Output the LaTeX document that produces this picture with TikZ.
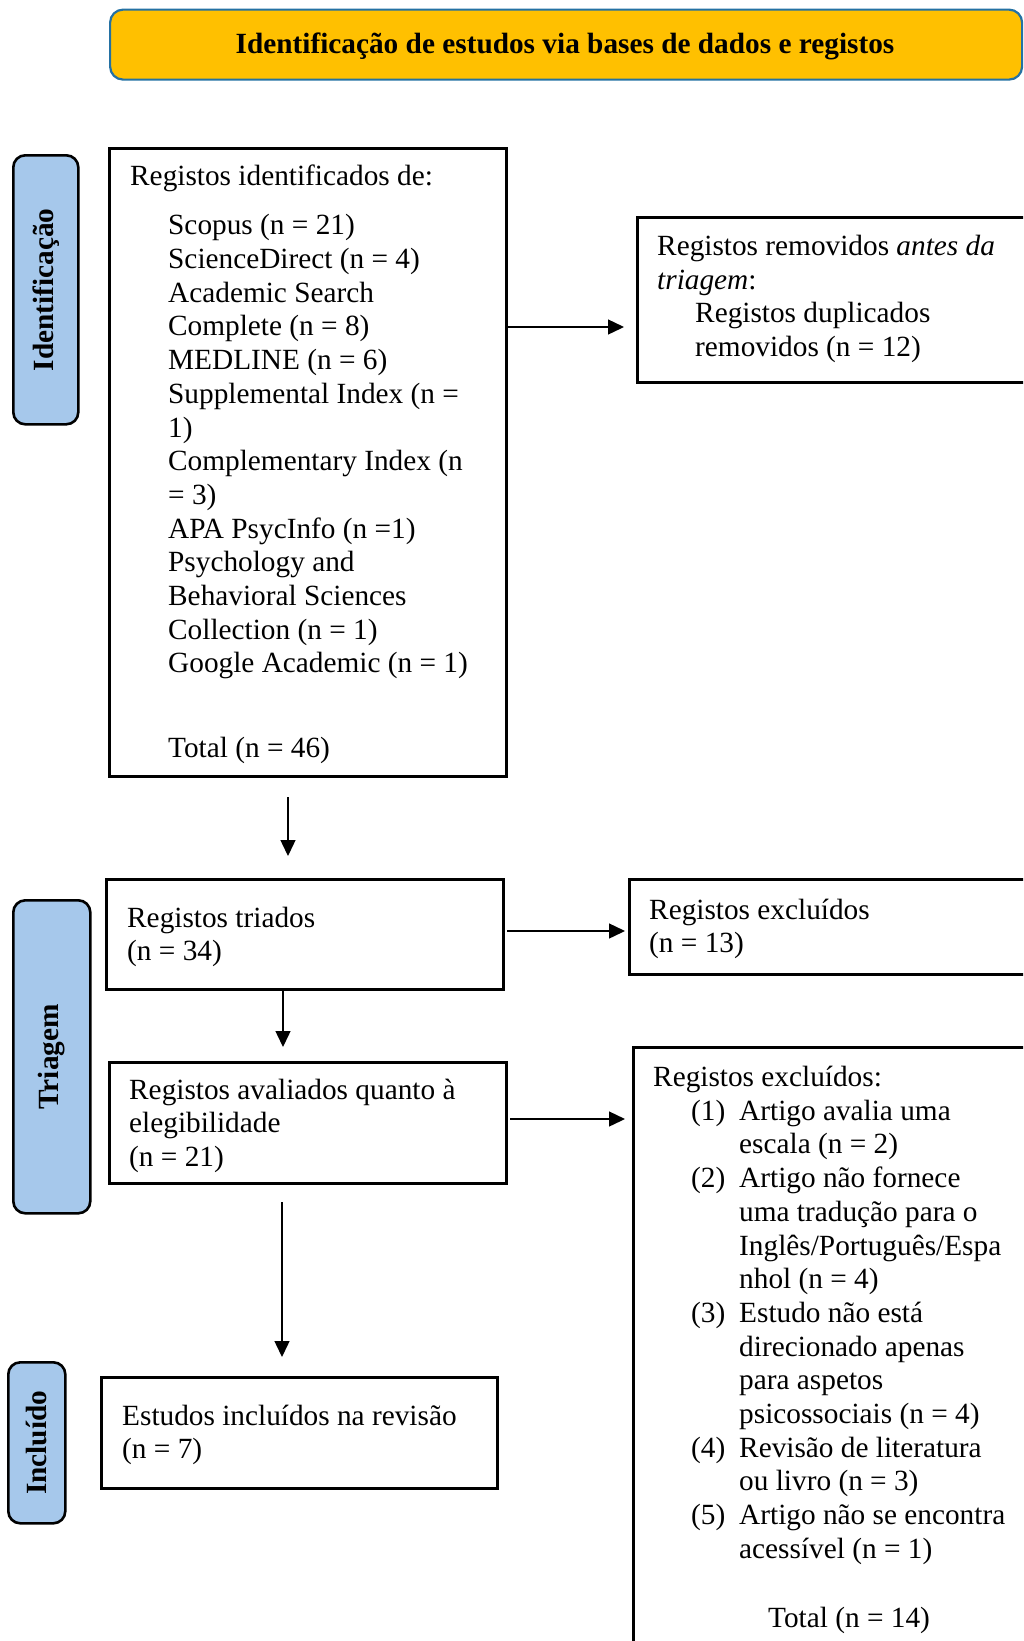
\documentclass[tikz,border=0pt]{standalone}
\usepackage{fontspec}
\setmainfont{Liberation Serif}
\usetikzlibrary{arrows.meta}
\definecolor{bannerfill}{RGB}{255,192,0}
\definecolor{bannerline}{RGB}{36,113,163}
\definecolor{labelfill}{RGB}{166,200,235}
\newcommand\bodyfont{\fontsize{29.3}{33.7}\selectfont}
\tikzset{
  box/.style={draw, line width=2.6pt, rectangle, inner sep=0pt, anchor=north west},
  lab/.style={draw, line width=2.6pt, fill=labelfill, rounded corners=12pt, rectangle, inner sep=0pt, anchor=north west},
  labtxt/.style={rotate=90, inner sep=0pt, font=\bodyfont\bfseries},
  txt/.style={anchor=north west, inner sep=0pt, align=left, font=\bodyfont},
  ltxt/.style={anchor=base west, inner sep=0pt, font=\bodyfont},
  arr/.style={line width=1.4pt, -{Triangle[length=16pt,width=15pt]}},
}
\begin{document}
\begin{tikzpicture}[x=1pt,y=-1pt]
\useasboundingbox (0,0) rectangle (1023,1641);
\clip (0,0) rectangle (1023,1641);

% banner
\node[draw=bannerline, line width=2.2pt, fill=bannerfill, rounded corners=13pt, rectangle,
      inner sep=0pt, anchor=north west, minimum width=912pt, minimum height=70pt] (ban) at (109,8.5) {};
\node[anchor=base, inner sep=0pt, font=\bodyfont\bfseries] (bantxt) at (565,53.3)
  {Identificação de estudos via bases de dados e registos};

% phase labels
\node[lab, minimum width=65pt, minimum height=269pt] (L1) at (12,154) {};
\node[labtxt] (L1t) at (L1.center) {Identificação};
\node[lab, minimum width=77pt, minimum height=313pt] (L2) at (12,899) {};
\node[labtxt] (L2t) at (L2.center) {Triagem};
\node[lab, minimum width=57pt, minimum height=161pt] (L3) at (7,1361) {};
\node[labtxt] (L3t) at (L3.center) {Incluído};

% boxes
\node[box, minimum width=397pt, minimum height=628pt] (b1) at (108,147) {};
\node[box, minimum width=420pt, minimum height=165pt] (b2) at (636,216) {};
\node[box, minimum width=397pt, minimum height=110pt] (b3) at (105,878) {};
\node[box, minimum width=397pt, minimum height=121pt] (b4) at (108,1061) {};
\node[box, minimum width=396pt, minimum height=111pt] (b5) at (100,1376) {};
\node[box, minimum width=420pt, minimum height=95pt] (b6) at (628,878) {};
\node[box, minimum width=420pt, minimum height=640pt] (b7) at (632,1046) {};

% box 1 text
\node[ltxt] (t1h) at (130,185) {Registos identificados de:};
\node[txt] (t1) at (168,211) {\strut Scopus (n = 21)\\
ScienceDirect (n = 4)\\
Academic Search\\
Complete (n = 8)\\
MEDLINE (n = 6)\\
Supplemental Index (n =\\
1)\\
Complementary Index (n\\
= 3)\\
APA PsycInfo (n =1)\\
Psychology and\\
Behavioral Sciences\\
Collection (n = 1)\\
Google Academic (n = 1)\\[51.2pt]
Total (n = 46)};

% box 2 text
\node[txt] (t2a) at (657,232) {\strut Registos removidos \textit{antes da}\\\textit{triagem}:};
\node[txt] (t2b) at (695,299) {\strut Registos duplicados\\removidos (n = 12)};

% box 3 text
\node[txt] (t3) at (127,903.4) {\strut Registos triados\\(n = 34)};
% box 4 text
\node[txt] (t4) at (129,1075.4) {\strut Registos avaliados quanto à\\elegibilidade\\(n = 21)};
% box 5 text
\node[txt] (t5) at (122,1401.4) {\strut Estudos incluídos na revisão\\(n = 7)};
% box 6 text
\node[txt] (t6) at (649,895.4) {\strut Registos excluídos\\(n = 13)};

% box 7 text
\node[ltxt] (t7h) at (653,1086.7) {Registos excluídos:};
\node[ltxt] (n1) at (691,1120) {(1)};
\node[ltxt] (n2) at (691,1187.4) {(2)};
\node[ltxt] (n3) at (691,1322.2) {(3)};
\node[ltxt] (n4) at (691,1457) {(4)};
\node[ltxt] (n5) at (691,1524.4) {(5)};
\node[txt] (t7) at (739,1096.4) {\strut Artigo avalia uma\\
escala (n = 2)\\
Artigo não fornece\\
uma tradução para o\\
Inglês/Português/Espa\\
nhol (n = 4)\\
Estudo não está\\
direcionado apenas\\
para aspetos\\
psicossociais (n = 4)\\
Revisão de literatura\\
ou livro (n = 3)\\
Artigo não se encontra\\
acessível (n = 1)};
\node[ltxt] (t7t) at (768,1627) {Total (n = 14)};

% connector end points
\coordinate (a1e) at (624,327);
\coordinate (a2s) at (288,797);
\coordinate (a2e) at (288,856);
\coordinate (a3s) at (507,931);
\coordinate (a3e) at (625,931);
\coordinate (a4x) at (283,0);
\coordinate (a4e) at (283,1047);
\coordinate (a5s) at (510,1119);
\coordinate (a5e) at (625,1119);
\coordinate (a6s) at (282,1202);
\coordinate (a6e) at (282,1357);

% connectors
\draw[arr] (b1.east |- a1e) -- (a1e);
\draw[arr] (a2s) -- (a2e);
\draw[arr] (a3s) -- (a3e);
\draw[arr] (b3.south -| a4x) -- (a4e);
\draw[arr] (a5s) -- (a5e);
\draw[arr] (a6s) -- (a6e);
\end{tikzpicture}
\end{document}
